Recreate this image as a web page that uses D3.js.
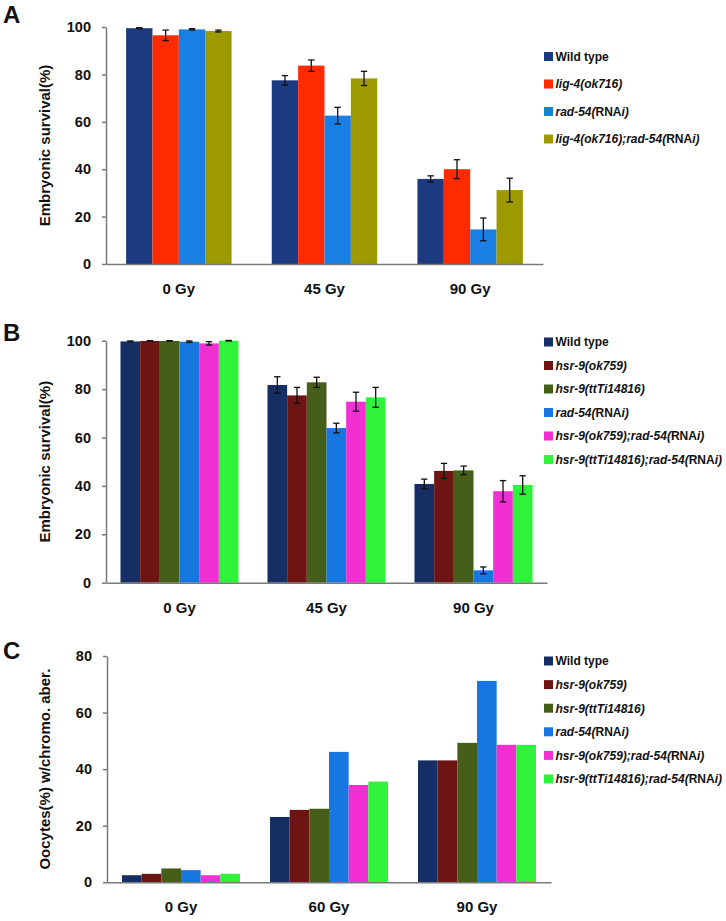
<!DOCTYPE html>
<html>
<head>
<meta charset="utf-8">
<script src="https://cdn.jsdelivr.net/npm/d3@7"></script>
<style>
  html, body { margin: 0; padding: 0; background: #fff; }
  svg { display: block; font-family: "Liberation Sans", Arial, Helvetica, sans-serif; }
</style>
</head>
<body>
<svg id="chart" width="726" height="921"></svg>
<script>
// ---------- DATA ----------
const groupsA = ["0 Gy", "45 Gy", "90 Gy"];
const seriesA = ["Wild type", "lig-4(ok716)", "rad-54(RNAi)", "lig-4(ok716);rad-54(RNAi)"];
const colorsA = ["#1b3a80", "#ff2a00", "#1a7fe4", "#9c9a00"];
const valuesA = [
  [99.5, 77.5, 35.9],
  [96.5, 83.7, 40.0],
  [99.0, 62.6, 14.6],
  [98.3, 78.3, 31.2]
];
const errorsA = [
  [0.2, 2.0, 1.3],
  [2.2, 2.4, 4.0],
  [0.3, 3.5, 4.8],
  [0.4, 3.0, 5.0]
];

const groupsB = ["0 Gy", "45 Gy", "90 Gy"];
const seriesB = ["Wild type", "hsr-9(ok759)", "hsr-9(ttTi14816)", "rad-54(RNAi)", "hsr-9(ok759);rad-54(RNAi)", "hsr-9(ttTi14816);rad-54(RNAi)"];
const colorsB = ["#152e63", "#6d1512", "#455f1a", "#1677e0", "#f22fd3", "#2ff23b"];
const valuesB = [
  [99.7, 81.7, 40.8],
  [99.9, 77.4, 46.2],
  [99.9, 82.8, 46.4],
  [99.6, 63.9, 5.1],
  [98.9, 74.8, 37.8],
  [100.0, 76.6, 40.4]
];
const errorsB = [
  [0.2, 3.4, 2.0],
  [0.1, 3.3, 3.1],
  [0.1, 2.1, 1.8],
  [0.3, 2.0, 1.4],
  [0.7, 3.9, 4.4],
  [0.1, 4.1, 3.8]
];

const groupsC = ["0 Gy", "60 Gy", "90 Gy"];
const seriesC = seriesB;
const colorsC = colorsB;
const valuesC = [
  [2.5, 23.1, 43.1],
  [3.0, 25.6, 43.1],
  [4.9, 26.0, 49.3],
  [4.3, 46.1, 71.2],
  [2.5, 34.4, 48.6],
  [3.0, 35.6, 48.6]
];

const ticksAB = [0, 20, 40, 60, 80, 100];
const ticksC = [0, 20, 40, 60, 80];

// ---------- DRAW ----------
const svg = d3.select("#chart");

function legendLabel(textSel, label) {
  if (label === "Wild type") {
    textSel.append("tspan").attr("font-style", "normal").text(label);
    return;
  }
  const parts = label.split(/(RNA)/);
  parts.forEach(p => {
    if (!p) return;
    textSel.append("tspan")
      .attr("font-style", p === "RNA" ? "normal" : "italic")
      .text(p);
  });
}

function panel(cfg) {
  const g = svg.append("g");
  const y = d3.scaleLinear().domain([0, cfg.ymax]).range([cfg.y0, cfg.ytop]);
  const x0 = d3.scaleBand().domain(cfg.groups).range(cfg.xr)
    .paddingInner(cfg.pad).paddingOuter(cfg.pad / 2);
  const x1 = d3.scaleBand().domain(d3.range(cfg.series.length))
    .range([0, x0.bandwidth()]).padding(0);

  // bars
  cfg.series.forEach((s, si) => {
    g.append("g").selectAll("rect")
      .data(cfg.values[si])
      .join("rect")
      .attr("x", (d, gi) => x0(cfg.groups[gi]) + x1(si))
      .attr("y", d => y(d))
      .attr("width", x1.bandwidth())
      .attr("height", d => y(0) - y(d))
      .attr("fill", cfg.colors[si]);
  });

  // error bars
  if (cfg.errors) {
    cfg.series.forEach((s, si) => {
      const eg = g.append("g").attr("stroke", "#111").attr("stroke-width", 1.3);
      cfg.values[si].forEach((v, gi) => {
        const e = cfg.errors[si][gi];
        const cx = x0(cfg.groups[gi]) + x1(si) + x1.bandwidth() / 2;
        const yt = y(Math.min(v + e, cfg.ymax + 5)), yb = y(v - e);
        eg.append("line").attr("x1", cx).attr("x2", cx).attr("y1", yt).attr("y2", yb);
        eg.append("line").attr("x1", cx - 3.2).attr("x2", cx + 3.2).attr("y1", yt).attr("y2", yt);
        eg.append("line").attr("x1", cx - 3.2).attr("x2", cx + 3.2).attr("y1", yb).attr("y2", yb);
      });
    });
  }

  // y axis
  const ya = g.append("g").attr("transform", `translate(${cfg.xr[0]},0)`)
    .call(d3.axisLeft(y).tickValues(cfg.ticks).tickSize(4).tickSizeOuter(0).tickPadding(11));
  ya.select(".domain").attr("stroke", "#7a7a7a").attr("stroke-width", 1.5);
  ya.selectAll(".tick line").attr("stroke", "#7a7a7a").attr("stroke-width", 1.5);
  ya.selectAll(".tick text").attr("font-size", 14.5).attr("font-weight", "bold")
    .attr("fill", "#111").attr("font-family", "Liberation Sans, Arial, sans-serif");

  // x axis
  const xa = g.append("g").attr("transform", `translate(0,${cfg.y0})`)
    .call(d3.axisBottom(x0).tickSize(0).tickPadding(0).tickSizeOuter(0));
  xa.select(".domain").attr("stroke", "#7a7a7a").attr("stroke-width", 1.5);
  xa.selectAll(".tick text").attr("font-size", 15).attr("font-weight", "bold")
    .attr("fill", "#111").attr("dy", null).attr("y", 30)
    .attr("font-family", "Liberation Sans, Arial, sans-serif");

  // y title
  g.append("text")
    .attr("transform", `translate(${cfg.titleX},${(cfg.y0 + cfg.ytop) / 2}) rotate(-90)`)
    .attr("text-anchor", "middle")
    .attr("font-size", 15).attr("font-weight", "bold").attr("fill", "#111")
    .text(cfg.ytitle);

  // panel letter
  g.append("text").attr("x", 3).attr("y", cfg.letterY)
    .attr("font-size", 24).attr("font-weight", "bold").attr("fill", "#111")
    .text(cfg.letter);

  // legend
  const lg = g.append("g");
  cfg.series.forEach((s, si) => {
    const ly = cfg.legY[0] + si * cfg.legY[1];
    lg.append("rect").attr("x", 544).attr("y", ly - 4.5).attr("width", 9).attr("height", 9)
      .attr("fill", cfg.colors[si]);
    const t = lg.append("text").attr("x", 555.5).attr("y", ly + 4.3)
      .attr("font-size", 12).attr("font-weight", "bold").attr("fill", "#111");
    legendLabel(t, s);
  });
}

panel({
  letter: "A", letterY: 23,
  groups: groupsA, series: seriesA, colors: colorsA, values: valuesA, errors: errorsA,
  ymax: 100, ticks: ticksAB, y0: 264, ytop: 27, xr: [106, 543], pad: 0.276,
  titleX: 50, ytitle: "Embryonic survival(%)", legY: [56.5, 27.5]
});

panel({
  letter: "B", letterY: 341,
  groups: groupsB, series: seriesB, colors: colorsB, values: valuesB, errors: errorsB,
  ymax: 100, ticks: ticksAB, y0: 582.7, ytop: 340.7, xr: [106, 547], pad: 0.197,
  titleX: 50, ytitle: "Embryonic survival(%)", legY: [342, 23.5]
});

panel({
  letter: "C", letterY: 659,
  groups: groupsC, series: seriesC, colors: colorsC, values: valuesC, errors: null,
  ymax: 80, ticks: ticksC, y0: 882.3, ytop: 656, xr: [107, 551], pad: 0.203,
  titleX: 50, ytitle: "Oocytes(%) w/chromo. aber.", legY: [661, 23.6]
});
</script>
</body>
</html>
